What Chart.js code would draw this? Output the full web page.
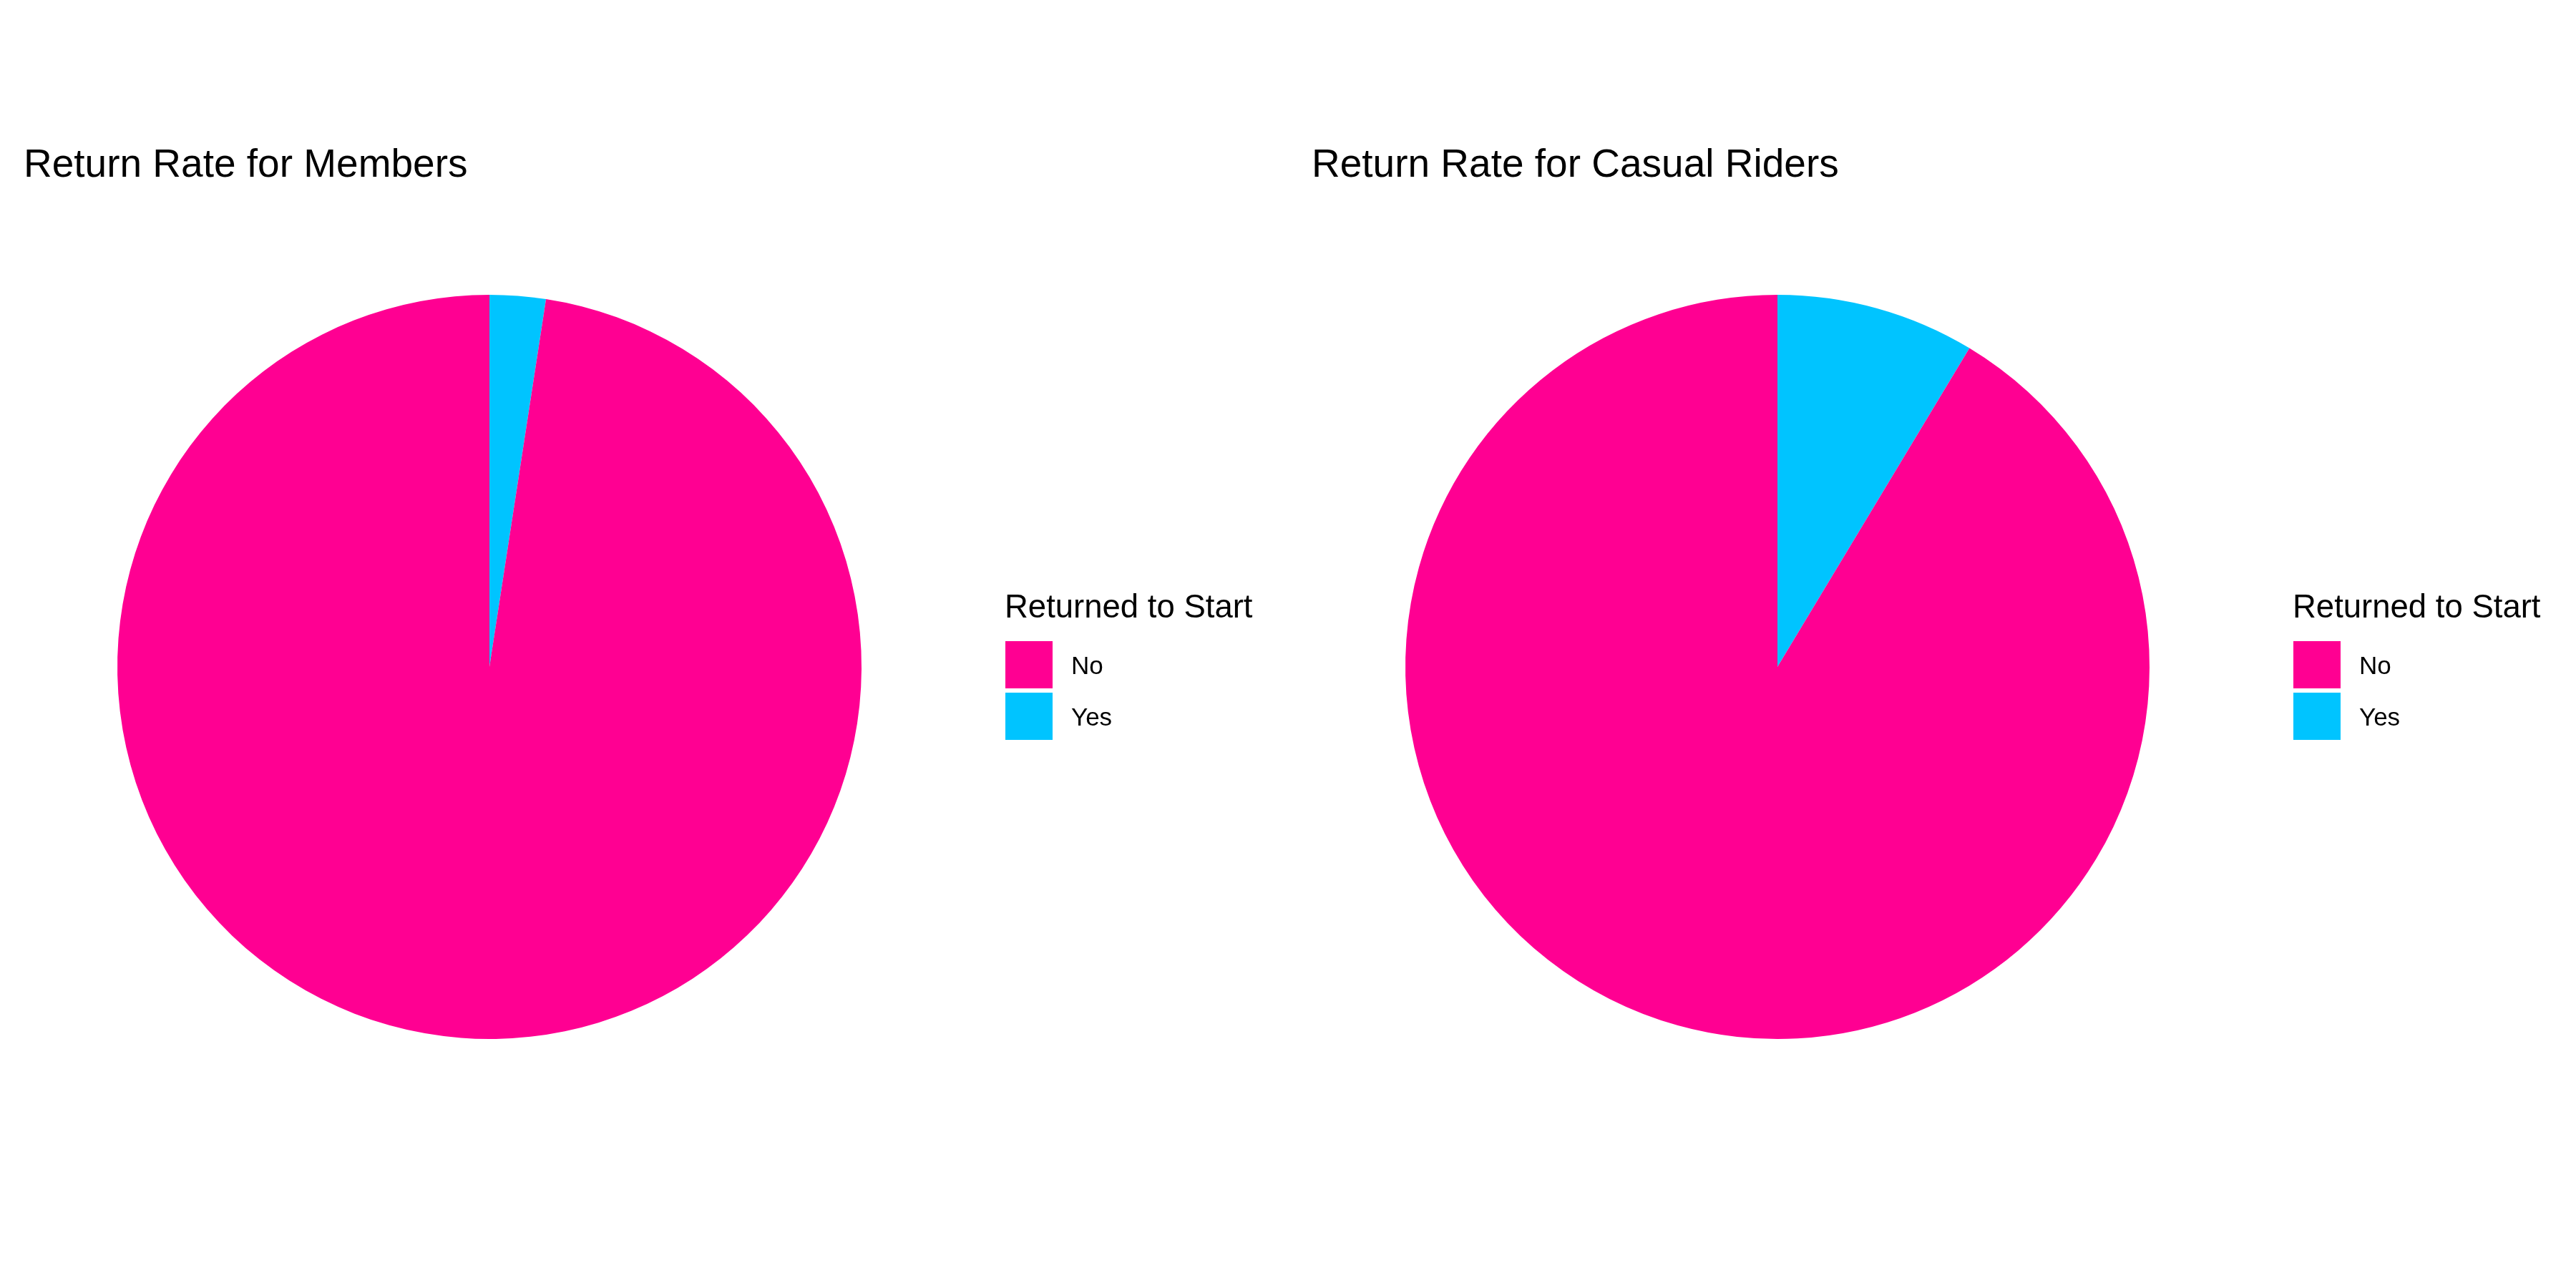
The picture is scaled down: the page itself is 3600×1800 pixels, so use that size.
<!DOCTYPE html>
<html>
<head>
<meta charset="utf-8">
<script src="https://cdn.jsdelivr.net/npm/chart.js@4"></script>
<style>
  html, body { margin: 0; padding: 0; background: #ffffff; }
  #wrap { display: flex; width: 3600px; height: 1800px; }
  canvas { display: block; }
</style>
</head>
<body>
<div id="wrap">
  <canvas id="c1" width="1800" height="1800"></canvas>
  <canvas id="c2" width="1800" height="1800"></canvas>
</div>
<script>
// ---- data ----
const categories = ["Yes", "No"];              // drawing order (clockwise from 12 o'clock)
const legendOrder = ["No", "Yes"];             // legend display order
const memberValues = [2.43, 97.57];            // % of member rides returned to start
const casualValues = [8.63, 91.37];            // % of casual rides returned to start
const titles = ["Return Rate for Members", "Return Rate for Casual Riders"];
const legendTitle = "Returned to Start";
const colors = { "No": "#FF0092", "Yes": "#00C4FF" };

const FONT = "'Liberation Sans', Arial, Helvetica, sans-serif";

const overlay = {
  id: 'overlay',
  afterDraw(chart, args, opts) {
    const ctx = chart.ctx;
    ctx.save();
    ctx.fillStyle = '#000000';
    ctx.textBaseline = 'alphabetic';
    ctx.textAlign = 'left';
    // title
    ctx.font = '55px ' + FONT;
    ctx.fillText(opts.title, 33, 247);
    // legend title
    ctx.font = '45.5px ' + FONT;
    ctx.fillText(legendTitle, 1404, 863);
    // legend items
    ctx.font = '35px ' + FONT;
    const labels = chart.data.labels;
    const bg = chart.data.datasets[0].backgroundColor;
    legendOrder.forEach((lab, i) => {
      const idx = labels.indexOf(lab);
      const y0 = 896 + i * 72;
      ctx.fillStyle = bg[idx];
      ctx.fillRect(1405, y0, 66, 66);
      ctx.fillStyle = '#000000';
      ctx.fillText(lab, 1497, y0 + 46);
    });
    ctx.restore();
  }
};

function makePie(id, values, title) {
  return new Chart(document.getElementById(id), {
    type: 'pie',
    data: {
      labels: categories,
      datasets: [{
        data: values,
        backgroundColor: categories.map(c => colors[c]),
        borderWidth: 0,
        hoverOffset: 0
      }]
    },
    options: {
      responsive: false,
      animation: false,
      events: [],
      layout: { padding: { left: 164, top: 412, right: 596, bottom: 348 } },
      plugins: {
        legend: { display: false },
        title: { display: false },
        tooltip: { enabled: false },
        overlay: { title: title }
      }
    },
    plugins: [overlay]
  });
}

makePie('c1', memberValues, titles[0]);
makePie('c2', casualValues, titles[1]);
</script>
</body>
</html>
